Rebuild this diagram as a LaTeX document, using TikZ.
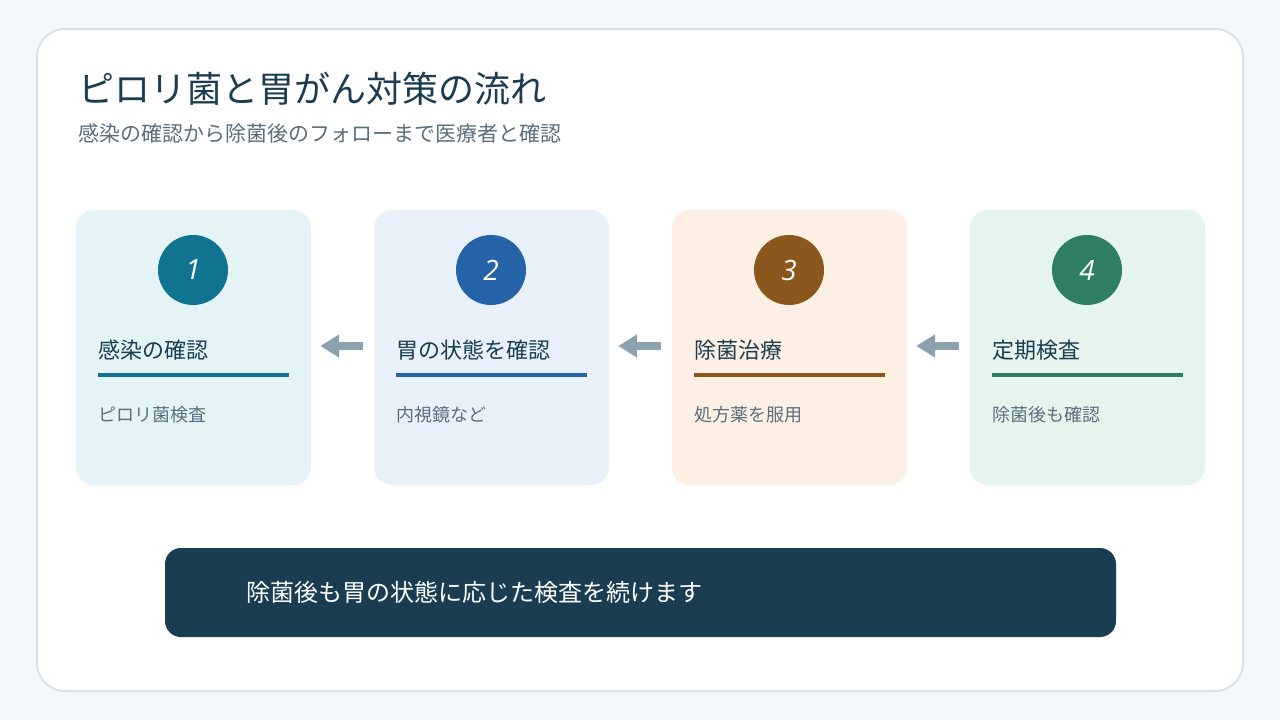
\documentclass[tikz,border=0pt]{standalone}
\usepackage{fontspec}
\setmainfont{Noto Sans CJK JP}
\newfontfamily\numfont{Open Sans}
\usetikzlibrary{arrows.meta}
\definecolor{bgc}{HTML}{F4F8FB}
\definecolor{panelb}{HTML}{D5E0E8}
\definecolor{navy}{HTML}{1B3D52}
\definecolor{greyt}{HTML}{5A6E7C}
\definecolor{arr}{HTML}{8CA3AF}
\definecolor{cardA}{HTML}{E3F3F6}
\definecolor{cardB}{HTML}{E8F0FA}
\definecolor{cardC}{HTML}{FBF0E3}
\definecolor{cardD}{HTML}{E6F4EE}
\definecolor{circA}{HTML}{10738F}
\definecolor{circB}{HTML}{2563A8}
\definecolor{circC}{HTML}{8B571C}
\definecolor{circD}{HTML}{2E7F62}
\definecolor{banner}{HTML}{1A3D52}
\tikzset{
  cardbox/.style={draw=none, rounded corners=18pt, minimum width=235pt, minimum height=275pt, inner sep=0pt},
  numcirc/.style={circle, minimum size=70pt, inner sep=0pt, text=white, font=\numfont\itshape\fontsize{28}{32}\selectfont},
  cardtitle/.style={anchor=base west, inner sep=0pt, text=navy, font=\fontsize{22}{26}\selectfont},
  carddesc/.style={anchor=base west, inner sep=0pt, text=greyt, font=\fontsize{18}{22}\selectfont},
  flowarrow/.style={draw=arr, line width=8pt, -{Triangle[length=19pt,width=22pt]}},
  uline/.style={line width=4pt}
}
\begin{document}
\begin{tikzpicture}[x=1pt,y=-1pt]
\useasboundingbox (0,0) rectangle (1280,720);
\fill[bgc] (0,0) rectangle (1280,720);
\node[draw=panelb, line width=2pt, fill=white, rounded corners=28pt, minimum width=1206pt, minimum height=662pt, inner sep=0pt] (panel) at (640,360) {};
\node[anchor=base west, inner sep=0pt, text=navy, font=\fontsize{36}{42}\selectfont] (title) at (78,102.5) {ピロリ菌と胃がん対策の流れ};
\node[anchor=base west, inner sep=0pt, text=greyt, font=\fontsize{21}{25}\selectfont] (subtitle) at (78,141) {感染の確認から除菌後のフォローまで医療者と確認};
% cards
\foreach \i/\x/\cc/\ci/\t/\d in {1/76/cardA/circA/感染の確認/ピロリ菌検査, 2/374/cardB/circB/胃の状態を確認/内視鏡など, 3/672/cardC/circC/除菌治療/処方薬を服用, 4/970/cardD/circD/定期検査/除菌後も確認}{
  \node[cardbox, fill=\cc] (card\i) at (\x+117.5,347.5) {};
  \node[numcirc, fill=\ci] (num\i) at (\x+117,270) {\i};
  \node[cardtitle] (ct\i) at (\x+22,358.4) {\t};
  \coordinate (ul\i a) at (\x+22,375);
  \coordinate (ul\i b) at (\x+213,375);
  \draw[uline, draw=\ci] (ul\i a) -- (ul\i b);
  \node[carddesc] (cd\i) at (\x+22,421.8) {\d};
}
% arrows
\draw[flowarrow] ([xshift=-11pt,yshift=1.5pt]card2.west) -- ([xshift=9pt,yshift=1.5pt]card1.east);
\draw[flowarrow] ([xshift=-11pt,yshift=1.5pt]card3.west) -- ([xshift=9pt,yshift=1.5pt]card2.east);
\draw[flowarrow] ([xshift=-11pt,yshift=1.5pt]card4.west) -- ([xshift=9pt,yshift=1.5pt]card3.east);
% banner
\node[fill=banner, rounded corners=16pt, minimum width=951pt, minimum height=89pt, inner sep=0pt] (ban) at (640.5,592.5) {};
\node[anchor=base west, inner sep=0pt, text=white, font=\fontsize{24}{28}\selectfont] (bantext) at (246,601) {除菌後も胃の状態に応じた検査を続けます};
\end{tikzpicture}
\end{document}
